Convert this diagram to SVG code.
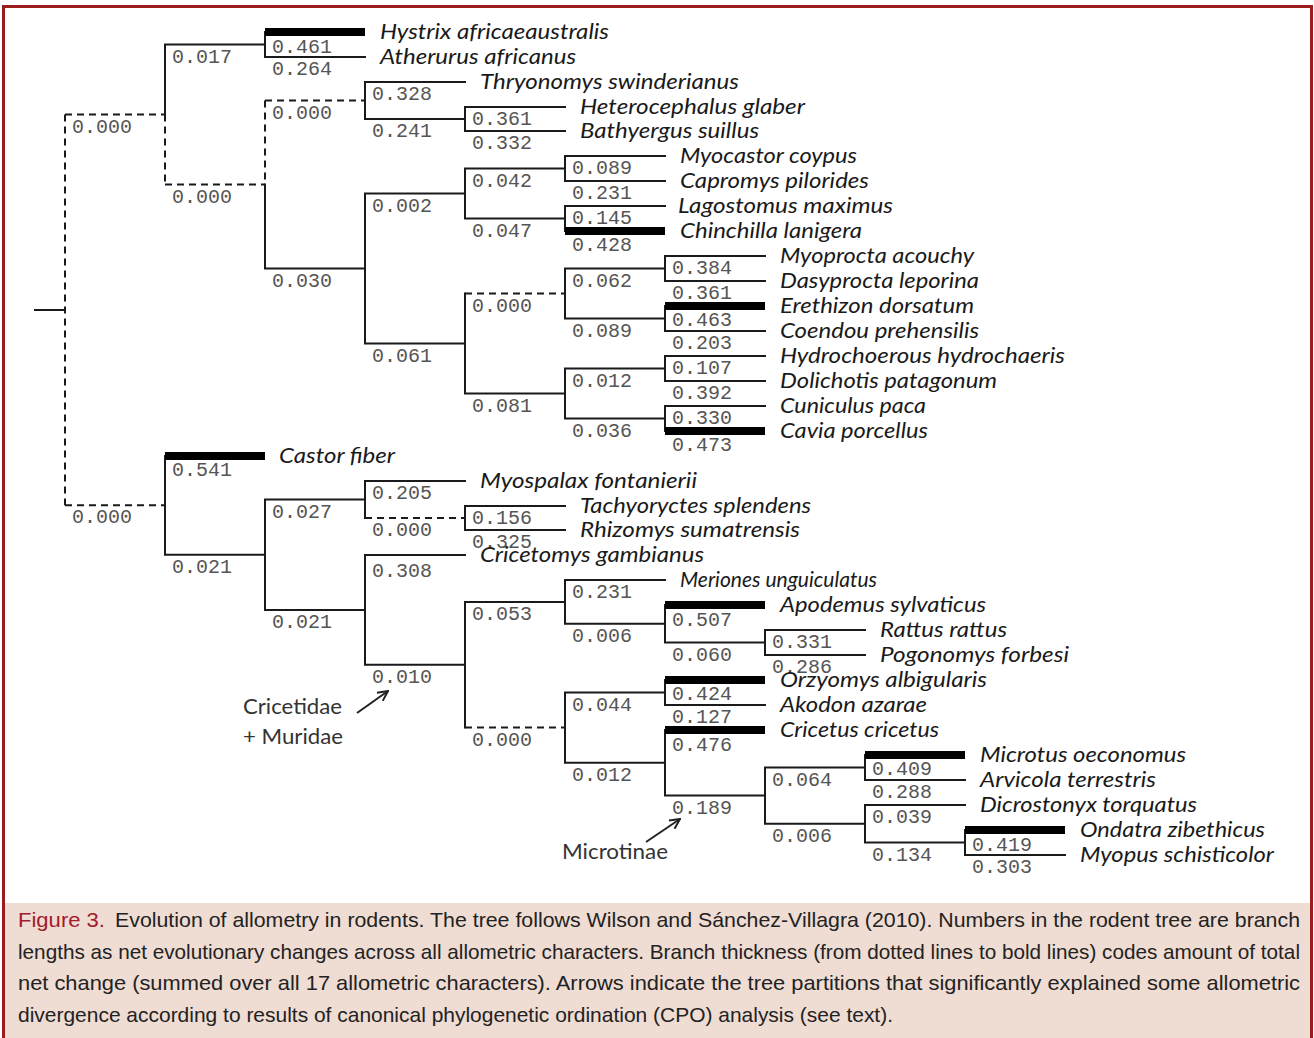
<svg xmlns="http://www.w3.org/2000/svg" width="1314" height="1038" viewBox="0 0 1314 1038">
<defs>
<style>
.br{fill:none;stroke:#1a1a1a;stroke-width:2;stroke-linecap:square}
.ds{fill:none;stroke:#1a1a1a;stroke-width:2;stroke-dasharray:7 5}
.tk{fill:none;stroke:#000;stroke-width:8}
.num{font-family:"Liberation Mono","DejaVu Sans Mono",monospace;font-size:20px;fill:#555}
.sp{font-family:Lato,"Liberation Sans",sans-serif;font-style:italic;font-size:21px;fill:#1a1a1a}
.ann{font-family:Lato,"Liberation Sans",sans-serif;font-size:21px;fill:#333}
.cap{font-family:"Liberation Sans",Arial,sans-serif;font-size:21px;fill:#222}
.arr{fill:none;stroke:#222;stroke-width:2}
</style>
<marker id="ah" viewBox="0 0 12 12" refX="11" refY="6" markerWidth="12" markerHeight="12" markerUnits="userSpaceOnUse" orient="auto">
<path d="M1,1 L11,6 L1,11" fill="none" stroke="#222" stroke-width="2"/>
</marker>
</defs>
<rect x="0" y="0" width="1314" height="1038" fill="#fff"/>
<rect x="5" y="903" width="1305" height="140" fill="#efdcd3"/>
<rect x="3.5" y="6.5" width="1308" height="1050" fill="none" stroke="#9b1c1c" stroke-width="3"/>

<g id="connectors">
<path class="br" d="M35,310 H65 M165,44.5 V114.5 M165,44.5 H265 M265,32 V57 M265,57 H365 M365,82 V119 M365,82 H465 M365,119 H465 M465,107 V131 M465,107 H565 M465,131 H565 M265,184.5 V268.5 M265,268.5 H365 M365,193.5 V343.5 M365,193.5 H465 M465,168.5 V218.5 M465,168.5 H565 M565,156 V181 M565,156 H665 M565,181 H665 M465,218.5 H565 M565,206 V231 M565,206 H665 M365,343.5 H465 M465,293.5 V393.5 M565,268.5 V318.5 M565,268.5 H665 M665,256 V281 M665,256 H765 M665,281 H765 M565,318.5 H665 M665,306 V331 M665,331 H765 M465,393.5 H565 M565,368.5 V418.5 M565,368.5 H665 M665,356 V381 M665,356 H765 M665,381 H765 M565,418.5 H665 M665,406 V431 M665,406 H765"/>
<path class="br" d="M165,456 V554.7 M165,554.7 H265 M265,499.5 V609.9 M265,499.5 H365 M365,481 V518 M365,481 H465 M465,506 V530 M465,506 H565 M465,530 H565 M265,609.9 H365 M365,555 V664.8 M365,555 H465 M365,664.8 H465 M465,601.9 V727.6 M465,601.9 H565 M565,580 V623.75 M565,580 H665 M565,623.75 H665 M665,605 V642.5 M665,642.5 H765 M765,630 V655 M765,630 H865 M765,655 H865 M565,692.5 V762.8 M565,692.5 H665 M665,680 V705 M665,705 H765 M565,762.8 H665 M665,730 V795.6 M665,795.6 H765 M765,767.5 V823.75 M765,767.5 H865 M865,755 V780 M865,780 H965 M765,823.75 H865 M865,805 V842.5 M865,805 H965 M865,842.5 H965 M965,830 V855 M965,855 H1065"/>
<path class="ds" d="M65,114.5 V505.3 M65,114.5 H165 M165,114.5 V184.5 M165,184.5 H265 M265,100.5 V184.5 M265,100.5 H365 M465,293.5 H565 M65,505.3 H165 M365,518 H465 M465,727.6 H565"/>
<path class="tk" d="M265,32 H365 M565,231 H665 M665,306 H765 M665,431 H765 M165,456 H265 M665,605 H765 M665,680 H765 M665,730 H765 M865,755 H965 M965,830 H1065"/>
</g>

<g id="branch-lengths" class="num">
<text x="72" y="132.5">0.000</text>
<text x="172" y="62.5">0.017</text>
<text x="272" y="53">0.461</text>
<text x="272" y="75">0.264</text>
<text x="172" y="202.5">0.000</text>
<text x="272" y="118.5">0.000</text>
<text x="372" y="100">0.328</text>
<text x="372" y="137">0.241</text>
<text x="472" y="125">0.361</text>
<text x="472" y="149">0.332</text>
<text x="272" y="286.5">0.030</text>
<text x="372" y="211.5">0.002</text>
<text x="472" y="186.5">0.042</text>
<text x="572" y="174">0.089</text>
<text x="572" y="199">0.231</text>
<text x="472" y="236.5">0.047</text>
<text x="572" y="224">0.145</text>
<text x="572" y="251">0.428</text>
<text x="372" y="361.5">0.061</text>
<text x="472" y="311.5">0.000</text>
<text x="572" y="286.5">0.062</text>
<text x="672" y="274">0.384</text>
<text x="672" y="299">0.361</text>
<text x="572" y="336.5">0.089</text>
<text x="672" y="326">0.463</text>
<text x="672" y="349">0.203</text>
<text x="472" y="411.5">0.081</text>
<text x="572" y="386.5">0.012</text>
<text x="672" y="374">0.107</text>
<text x="672" y="399">0.392</text>
<text x="572" y="436.5">0.036</text>
<text x="672" y="424">0.330</text>
<text x="672" y="451">0.473</text>
<text x="72" y="523">0.000</text>
<text x="172" y="476">0.541</text>
<text x="172" y="572.5">0.021</text>
<text x="272" y="517.5">0.027</text>
<text x="372" y="499">0.205</text>
<text x="372" y="536">0.000</text>
<text x="472" y="524">0.156</text>
<text x="472" y="548">0.325</text>
<text x="272" y="628">0.021</text>
<text x="372" y="577">0.308</text>
<text x="372" y="683">0.010</text>
<text x="472" y="620">0.053</text>
<text x="572" y="598">0.231</text>
<text x="572" y="641.5">0.006</text>
<text x="672" y="626">0.507</text>
<text x="672" y="661">0.060</text>
<text x="772" y="648">0.331</text>
<text x="772" y="673">0.286</text>
<text x="472" y="745.5">0.000</text>
<text x="572" y="710.5">0.044</text>
<text x="672" y="700">0.424</text>
<text x="672" y="723">0.127</text>
<text x="572" y="781">0.012</text>
<text x="672" y="751">0.476</text>
<text x="672" y="813.5">0.189</text>
<text x="772" y="785.5">0.064</text>
<text x="872" y="775">0.409</text>
<text x="872" y="798">0.288</text>
<text x="772" y="842">0.006</text>
<text x="872" y="823">0.039</text>
<text x="872" y="860.5">0.134</text>
<text x="972" y="851">0.419</text>
<text x="972" y="873">0.303</text>
</g>

<g id="n-hystrix"><text class="sp" x="380" y="39" textLength="229" lengthAdjust="spacingAndGlyphs">Hystrix africaeaustralis</text></g>
<g id="n-atherurus"><text class="sp" x="380" y="64" textLength="196" lengthAdjust="spacingAndGlyphs">Atherurus africanus</text></g>
<g id="n-thryonomys"><text class="sp" x="480" y="89" textLength="259" lengthAdjust="spacingAndGlyphs">Thryonomys swinderianus</text></g>
<g id="n-heterocephalus"><text class="sp" x="580" y="114" textLength="225" lengthAdjust="spacingAndGlyphs">Heterocephalus glaber</text></g>
<g id="n-bathyergus"><text class="sp" x="580" y="138" textLength="179" lengthAdjust="spacingAndGlyphs">Bathyergus suillus</text></g>
<g id="n-myocastor"><text class="sp" x="680" y="163" textLength="177" lengthAdjust="spacingAndGlyphs">Myocastor coypus</text></g>
<g id="n-capromys"><text class="sp" x="680" y="188" textLength="189" lengthAdjust="spacingAndGlyphs">Capromys pilorides</text></g>
<g id="n-lagostomus"><text class="sp" x="678" y="213" textLength="215" lengthAdjust="spacingAndGlyphs">Lagostomus maximus</text></g>
<g id="n-chinchilla"><text class="sp" x="680" y="238" textLength="182" lengthAdjust="spacingAndGlyphs">Chinchilla lanigera</text></g>
<g id="n-myoprocta"><text class="sp" x="780" y="263" textLength="194" lengthAdjust="spacingAndGlyphs">Myoprocta acouchy</text></g>
<g id="n-dasyprocta"><text class="sp" x="780" y="288" textLength="199" lengthAdjust="spacingAndGlyphs">Dasyprocta leporina</text></g>
<g id="n-erethizon"><text class="sp" x="780" y="313" textLength="194" lengthAdjust="spacingAndGlyphs">Erethizon dorsatum</text></g>
<g id="n-coendou"><text class="sp" x="780" y="338" textLength="199" lengthAdjust="spacingAndGlyphs">Coendou prehensilis</text></g>
<g id="n-hydrochoerous"><text class="sp" x="780" y="363" textLength="285" lengthAdjust="spacingAndGlyphs">Hydrochoerous hydrochaeris</text></g>
<g id="n-dolichotis"><text class="sp" x="780" y="388" textLength="217" lengthAdjust="spacingAndGlyphs">Dolichotis patagonum</text></g>
<g id="n-cuniculus"><text class="sp" x="780" y="413" textLength="146" lengthAdjust="spacingAndGlyphs">Cuniculus paca</text></g>
<g id="n-cavia"><text class="sp" x="780" y="438" textLength="148" lengthAdjust="spacingAndGlyphs">Cavia porcellus</text></g>
<g id="n-castor"><text class="sp" x="279" y="463" textLength="116" lengthAdjust="spacingAndGlyphs">Castor fiber</text></g>
<g id="n-myospalax"><text class="sp" x="480" y="488" textLength="217" lengthAdjust="spacingAndGlyphs">Myospalax fontanierii</text></g>
<g id="n-tachyoryctes"><text class="sp" x="580" y="513" textLength="231" lengthAdjust="spacingAndGlyphs">Tachyoryctes splendens</text></g>
<g id="n-rhizomys"><text class="sp" x="580" y="537" textLength="220" lengthAdjust="spacingAndGlyphs">Rhizomys sumatrensis</text></g>
<g id="n-cricetomys"><text class="sp" x="480" y="562" textLength="224" lengthAdjust="spacingAndGlyphs">Cricetomys gambianus</text></g>
<g id="n-meriones"><text class="sp" x="680" y="587" textLength="197" lengthAdjust="spacingAndGlyphs">Meriones unguiculatus</text></g>
<g id="n-apodemus"><text class="sp" x="780" y="612" textLength="206" lengthAdjust="spacingAndGlyphs">Apodemus sylvaticus</text></g>
<g id="n-rattus"><text class="sp" x="880" y="637" textLength="127" lengthAdjust="spacingAndGlyphs">Rattus rattus</text></g>
<g id="n-pogonomys"><text class="sp" x="880" y="662" textLength="189" lengthAdjust="spacingAndGlyphs">Pogonomys forbesi</text></g>
<g id="n-oryzomys"><text class="sp" x="780" y="687" textLength="207" lengthAdjust="spacingAndGlyphs">Orzyomys albigularis</text></g>
<g id="n-akodon"><text class="sp" x="780" y="712" textLength="147" lengthAdjust="spacingAndGlyphs">Akodon azarae</text></g>
<g id="n-cricetus"><text class="sp" x="780" y="737" textLength="159" lengthAdjust="spacingAndGlyphs">Cricetus cricetus</text></g>
<g id="n-microtus"><text class="sp" x="980" y="762" textLength="206" lengthAdjust="spacingAndGlyphs">Microtus oeconomus</text></g>
<g id="n-arvicola"><text class="sp" x="980" y="787" textLength="176" lengthAdjust="spacingAndGlyphs">Arvicola terrestris</text></g>
<g id="n-dicrostonyx"><text class="sp" x="980" y="812" textLength="217" lengthAdjust="spacingAndGlyphs">Dicrostonyx torquatus</text></g>
<g id="n-ondatra"><text class="sp" x="1080" y="837" textLength="185" lengthAdjust="spacingAndGlyphs">Ondatra zibethicus</text></g>
<g id="n-myopus"><text class="sp" x="1080" y="862" textLength="194" lengthAdjust="spacingAndGlyphs">Myopus schisticolor</text></g>

<g id="annot-cricetidae">
<text class="ann" x="243" y="714" textLength="99" lengthAdjust="spacingAndGlyphs">Cricetidae</text>
<text class="ann" x="243" y="744" textLength="100" lengthAdjust="spacingAndGlyphs">+ Muridae</text>
<line class="arr" x1="357" y1="713" x2="388" y2="691" marker-end="url(#ah)"/>
</g>
<g id="annot-microtinae">
<text class="ann" x="562" y="859" textLength="106" lengthAdjust="spacingAndGlyphs">Microtinae</text>
<line class="arr" x1="646" y1="842" x2="680" y2="819" marker-end="url(#ah)"/>
</g>

<g id="caption" class="cap">
<text x="18" y="927" fill="#a31a2a" textLength="87" lengthAdjust="spacingAndGlyphs">Figure 3.</text>
<text x="115" y="927" textLength="1185" lengthAdjust="spacingAndGlyphs">Evolution of allometry in rodents. The tree follows Wilson and Sánchez-Villagra (2010). Numbers in the rodent tree are branch</text>
<text x="18" y="958.5" textLength="1282" lengthAdjust="spacingAndGlyphs">lengths as net evolutionary changes across all allometric characters. Branch thickness (from dotted lines to bold lines) codes amount of total</text>
<text x="18" y="990" textLength="1282" lengthAdjust="spacingAndGlyphs">net change (summed over all 17 allometric characters). Arrows indicate the tree partitions that significantly explained some allometric</text>
<text x="18" y="1021.5" textLength="875" lengthAdjust="spacingAndGlyphs">divergence according to results of canonical phylogenetic ordination (CPO) analysis (see text).</text>
</g>
</svg>
